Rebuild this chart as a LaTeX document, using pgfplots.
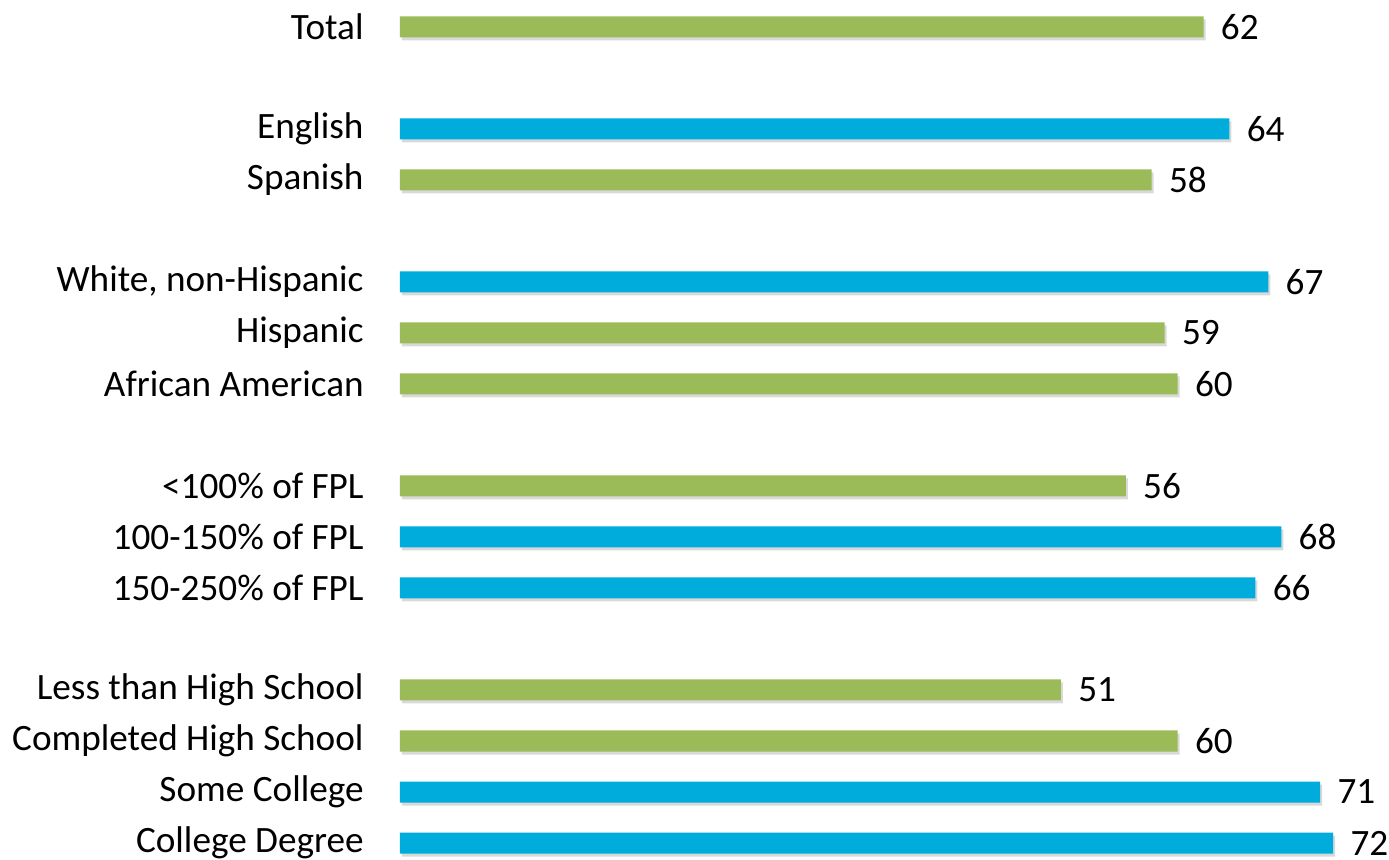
\documentclass[border=0pt]{standalone}
\usepackage{fontspec}
\setmainfont{Carlito}
\usepackage{pgfplots}
\pgfplotsset{compat=1.18}
\usetikzlibrary{shadows}

\definecolor{bargreen}{RGB}{155,187,89}
\definecolor{barblue}{RGB}{0,172,220}

\begin{document}
\begin{tikzpicture}
\begin{axis}[
    x=6.48pt, y=25.5pt,
    y dir=reverse,
    xmin=0, xmax=76, ymin=-0.5, ymax=16.3,
    xbar, bar width=10.5pt,
    axis line style={draw=none},
    xtick=\empty,
    ytick={0,2,3,5,6,7,9,10,11,13,14,15,16},
    yticklabels={Total, English, Spanish, {White, non-Hispanic}, Hispanic,
        African American, {<100\% of FPL}, {100-150\% of FPL}, {150-250\% of FPL},
        Less than High School, Completed High School, Some College, College Degree},
    major tick length=0pt,
    yticklabel style={font=\fontsize{18.6}{22}\selectfont, anchor=east, inner sep=0pt, xshift=-18pt},
    nodes near coords,
    /pgf/number format/assume math mode=true,
    every node near coord/.append style={font=\fontsize{18.6}{22}\selectfont, anchor=west, inner sep=0pt, xshift=8.5pt, black},
    clip=false,
]
\addplot[bar shift=0pt, fill=bargreen, draw=none,
    drop shadow={shadow xshift=1pt, shadow yshift=-1.5pt, opacity=0.3}]
    coordinates {(62,0) (58,3) (59,6) (60,7) (56,9) (51,13) (60,14)};
\addplot[bar shift=0pt, fill=barblue, draw=none,
    drop shadow={shadow xshift=1pt, shadow yshift=-1.5pt, opacity=0.3}]
    coordinates {(64,2) (67,5) (68,10) (66,11) (71,15) (72,16)};
\coordinate (tl) at (axis cs:-30.864,-0.529);
\coordinate (br) at (axis cs:76.31,16.314);
\end{axis}
\pgfresetboundingbox
\path[use as bounding box] (tl) rectangle (br);
\end{tikzpicture}
\end{document}
